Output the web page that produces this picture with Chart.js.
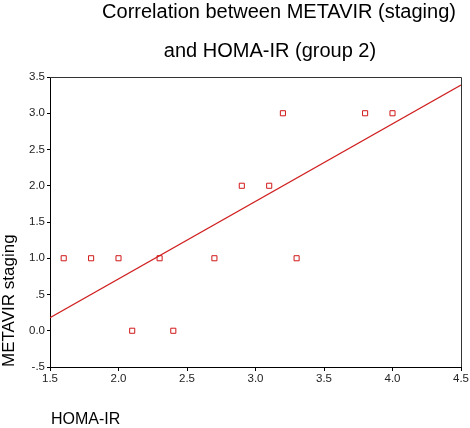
<!DOCTYPE html>
<html><head><meta charset="utf-8">
<script src="https://cdn.jsdelivr.net/npm/chart.js@4/dist/chart.umd.min.js"></script>
<style>html,body{margin:0;padding:0;background:#fff}#wrap{width:470px;height:428px}</style>
</head><body><div id="wrap"><canvas id="c" width="470" height="428"></canvas></div>
<script>
const homaIR = [1.6, 1.8, 2.0, 2.1, 2.3, 2.4, 2.7, 2.9, 3.1, 3.2, 3.3, 3.8, 4.0];
const metavir = [1, 1, 1, 0, 1, 0, 1, 2, 2, 3, 1, 3, 3];
const fitX = [1.5, 4.5];
const fitY = [0.18, 3.39];
const yTickLabels = {"3.5":"3.5","3":"3.0","2.5":"2.5","2":"2.0","1.5":"1.5","1":"1.0","0.5":".5","0":"0.0","-0.5":"-.5"};
const xTickLabels = {"1.5":"1.5","2":"2.0","2.5":"2.5","3":"3.0","3.5":"3.5","4":"4.0","4.5":"4.5"};
const titleLines = ["Correlation between METAVIR (staging)", "and HOMA-IR (group 2)"];
const xTitle = "HOMA-IR";
const yTitle = "METAVIR staging";

const FONT = "'Liberation Sans', Arial, sans-serif";
const textPlugin = {
  id: 'texts',
  afterDraw(chart) {
    const ctx = chart.ctx, a = chart.chartArea;
    ctx.save();
    ctx.strokeStyle = '#333'; ctx.lineWidth = 1;
    ctx.beginPath();
    ctx.moveTo(a.left, a.top + 0.5); ctx.lineTo(a.right + 0.5, a.top + 0.5);
    ctx.lineTo(a.right + 0.5, a.bottom);
    ctx.stroke();
    ctx.fillStyle = '#000';
    ctx.font = "20px " + FONT;
    ctx.textAlign = 'center'; ctx.textBaseline = 'alphabetic';
    ctx.fillText(titleLines[0], 279, 18);
    ctx.fillText(titleLines[1], 270, 57);
    ctx.font = "16px " + FONT;
    ctx.textAlign = 'left'; ctx.textBaseline = 'middle';
    ctx.fillText(xTitle, 51, 420);
    ctx.font = "17px " + FONT;
    ctx.textBaseline = 'alphabetic';
    ctx.translate(14, 367);
    ctx.rotate(-Math.PI / 2);
    ctx.fillText(yTitle, 0, 0);
    ctx.restore();
  }
};

new Chart(document.getElementById('c'), {
  type: 'scatter',
  data: {
    datasets: [
      {
        data: homaIR.map((x, i) => ({x, y: metavir[i]})),
        pointStyle: 'rect', pointRadius: 3.6, borderColor: '#d01818', backgroundColor: 'rgba(0,0,0,0)',
        borderWidth: 1, pointHoverRadius: 3.6
      },
      {
        type: 'line',
        data: fitX.map((x, i) => ({x, y: fitY[i]})),
        borderColor: '#d02020', borderWidth: 1.2, pointRadius: 0, fill: false
      }
    ]
  },
  options: {
    responsive: false, animation: false,
    layout: { padding: { top: 77, right: 9, left: 0, bottom: 0 } },
    plugins: { legend: { display: false }, tooltip: { enabled: false }, title: { display: false } },
    scales: {
      x: {
        type: 'linear', min: 1.5, max: 4.5,
        afterFit(s) { s.height = 428 - 367; },
        ticks: { stepSize: 0.5, color: '#222', font: { size: 11.5, family: FONT }, padding: 1, maxRotation: 0,
          callback: v => xTickLabels[String(v)] ?? '' },
        grid: { drawOnChartArea: false, drawTicks: true, tickLength: 4, color: '#000' },
        border: { display: true, color: '#000', width: 1 }
      },
      y: {
        type: 'linear', min: -0.5, max: 3.5,
        afterFit(s) { s.width = 50; },
        ticks: { stepSize: 0.5, color: '#222', font: { size: 11.5, family: FONT }, padding: 2,
          callback: v => yTickLabels[String(v)] ?? '' },
        grid: { drawOnChartArea: false, drawTicks: true, tickLength: 3, color: '#000' },
        border: { display: true, color: '#000', width: 1 }
      }
    }
  },
  plugins: [textPlugin]
});
</script></body></html>
